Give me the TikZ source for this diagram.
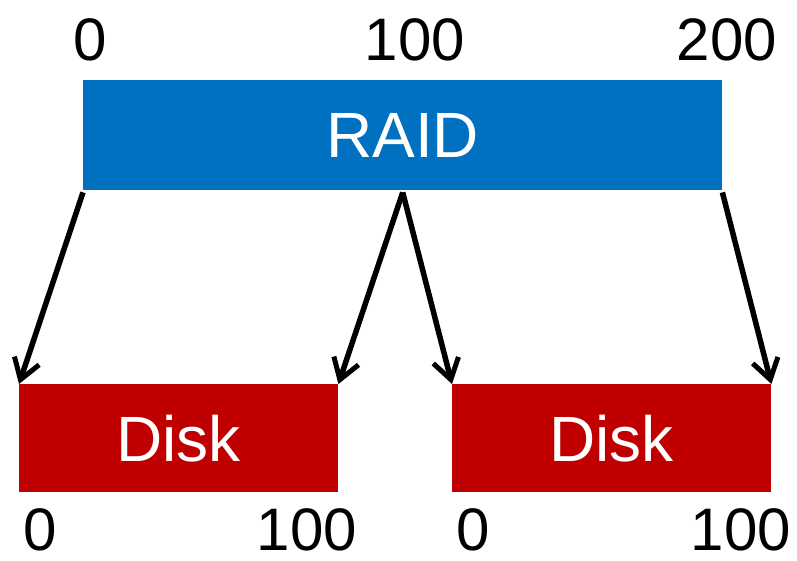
\documentclass[tikz,border=0pt]{standalone}
\usepackage{fontspec}
\setmainfont{Liberation Sans}
\usetikzlibrary{arrows.meta}
\definecolor{raidblue}{HTML}{0070C0}
\definecolor{diskred}{HTML}{C00000}
\begin{document}
\begin{tikzpicture}[x=1pt,y=-1pt,
  every node/.style={font=\fontsize{60}{66}\selectfont, inner sep=0pt},
  block/.style={anchor=north west, minimum height=#1, text=white,
    font=\fontsize{64}{70}\selectfont},
  raidbox/.style={block=110pt, fill=raidblue, minimum width=639pt},
  diskbox/.style={block=108pt, fill=diskred, minimum width=319pt},
  tick/.style={anchor=base, text depth=0pt},
  link/.style={line width=5.5pt, -{Straight Barb[length=20pt,width=26pt,line width=5pt]}}
]
\useasboundingbox (0,0) rectangle (797,560);

% RAID volume and the two member disks
\node[raidbox] (raid) at (83,80) {RAID};
\node[diskbox] (d1) at (19,384) {Disk};
\node[diskbox] (d2) at (452,384) {Disk};

% address labels
\node[tick] (r0)   at (90,60)  {0};
\node[tick] (r100) at (415,60) {100};
\node[tick] (r200) at (727,60) {200};
\node[tick] (a0)   at (40,550)  {0};
\node[tick] (a100) at (307,550) {100};
\node[tick] (b0)   at (473,550) {0};
\node[tick] (b100) at (741,550) {100};

% address mapping
\draw[link] ([yshift=-2pt]raid.south west) -- (d1.north west);
\draw[link] ([yshift=-2pt]raid.south) -- (d1.north east);
\draw[link] ([yshift=-2pt]raid.south) -- (d2.north west);
\draw[link] ([yshift=-2pt]raid.south east) -- (d2.north east);
\end{tikzpicture}
\end{document}
